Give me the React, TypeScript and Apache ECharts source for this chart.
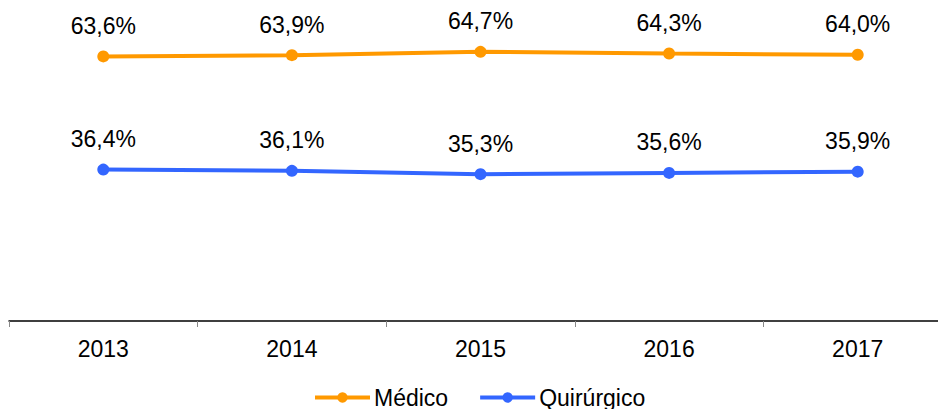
import React, { useEffect, useRef } from "react";
import * as echarts from "echarts";

const categories = ["2013", "2014", "2015", "2016", "2017"];
const medico = [63.6, 63.9, 64.7, 64.3, 64.0];
const quirurgico = [36.4, 36.1, 35.3, 35.6, 35.9];
const seriesNames = ["Médico", "Quirúrgico"];

const FONT = "'Liberation Sans', Arial, sans-serif";

export default function App() {
  const ref = useRef<HTMLDivElement>(null);
  useEffect(() => {
    if (!ref.current) return;
    const chart = echarts.init(ref.current, undefined, { renderer: "svg" });
    const fmt = (p: any) => String(p.value.toFixed(1)).replace(".", ",") + "%";
    const mkSeries = (name: string, data: number[], color: string) => ({
      name,
      type: "line",
      data,
      symbol: "circle",
      symbolSize: 12,
      itemStyle: { color },
      lineStyle: { color, width: 4 },
      label: {
        show: true,
        position: "top",
        distance: 13,
        formatter: fmt,
        fontSize: 23,
        color: "#000",
        fontFamily: FONT,
      },
    });
    chart.setOption({
      animation: false,
      textStyle: { fontFamily: FONT },
      grid: {
        left: 9,
        width: 943,
        top: 9,
        height: 312,
        containLabel: false,
        outerBoundsMode: "none",
      },
      legend: {
        data: seriesNames,
        left: 313,
        top: 386,
        padding: 0,
        itemWidth: 55,
        itemHeight: 13,
        itemGap: 30,
        lineStyle: { width: 4 },
        textStyle: { fontSize: 23, color: "#000", fontFamily: FONT, padding: [0, 0, 0, -1] },
      },
      xAxis: {
        type: "category",
        data: categories,
        boundaryGap: true,
        axisLine: { lineStyle: { color: "#000", width: 1.5 } },
        axisTick: { show: true, length: 6, lineStyle: { color: "#888" } },
        axisLabel: { fontSize: 23, color: "#000", margin: 16, fontFamily: FONT },
      },
      yAxis: {
        type: "value",
        min: 0,
        max: 75,
        show: false,
        splitLine: { show: false },
      },
      series: [
        mkSeries(seriesNames[0], medico, "#FF9900"),
        mkSeries(seriesNames[1], quirurgico, "#3366FF"),
      ],
    });
    return () => chart.dispose();
  }, []);
  return (
    <div
      ref={ref}
      style={{ position: "absolute", left: 0, top: 0, width: 938, height: 409 }}
    />
  );
}
